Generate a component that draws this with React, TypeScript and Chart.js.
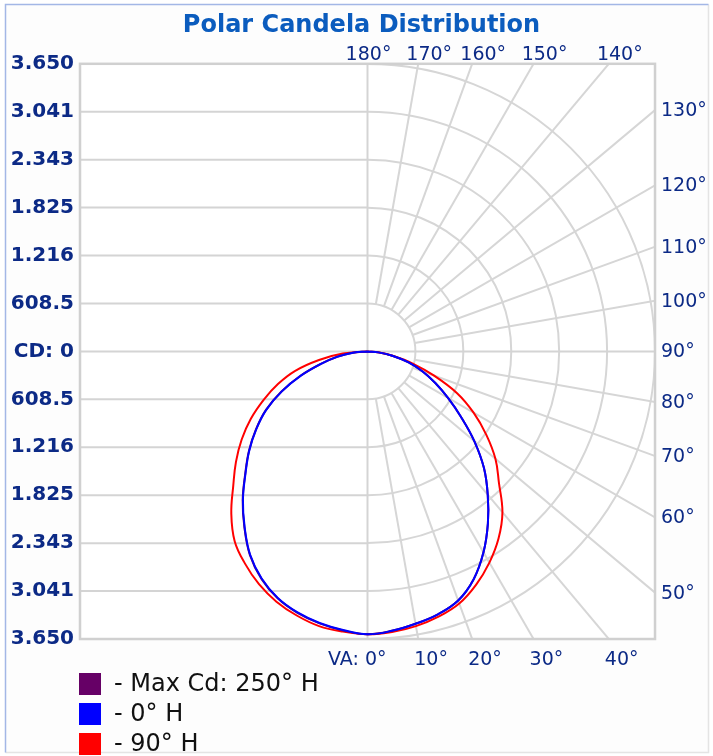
import React, { useEffect, useRef } from "react";
import { Chart, registerables } from "chart.js";
Chart.register(...registerables);

const TITLE = "Polar Candela Distribution";
const MAX_CD = 3650;
const Y_TICK_VALUES = [-3650, -3041.67, -2433.33, -1825, -1216.67, -608.33, 0, 608.33, 1216.67, 1825, 2433.33, 3041.67, 3650];
const Y_TICK_LABELS = ["3.650", "3.041", "2.343", "1.825", "1.216", "608.5", "CD: 0", "608.5", "1.216", "1.825", "2.343", "3.041", "3.650"];
const RING_VALUES = [608.33, 1216.67, 1825, 2433.33, 3041.67, 3650];
const SPOKE_ANGLES = [10, 20, 30, 40, 50, 60, 70, 80, 100, 110, 120, 130, 140, 150, 160, 170];
const BOTTOM_ANGLE_LABELS = [0, 10, 20, 30, 40];
const RIGHT_ANGLE_LABELS = [50, 60, 70, 80, 90, 100, 110, 120, 130];
const TOP_ANGLE_LABELS = [140, 150, 160, 170, 180];

// vertical angles (0 = nadir) and candela values
const VERTICAL_ANGLES = [0, 5, 10, 15, 20, 25, 30, 35, 40, 45, 50, 55, 60, 65, 70, 75, 80, 85, 90];
const CD_0H = [3590, 3560, 3510, 3455, 3365, 3190, 2945, 2665, 2375, 2090, 1770, 1450, 1180, 950, 745, 540, 320, 140, 0];
const CD_180H = [3590, 3550, 3500, 3430, 3330, 3180, 2980, 2720, 2460, 2190, 1960, 1725, 1485, 1200, 900, 610, 385, 185, 0];
const CD_90H = [3590, 3575, 3540, 3485, 3405, 3265, 3095, 2900, 2665, 2360, 2120, 1840, 1555, 1255, 900, 595, 335, 150, 0];
const CD_270H = [3590, 3570, 3540, 3470, 3380, 3260, 3110, 2940, 2690, 2410, 2180, 1950, 1710, 1455, 1210, 950, 625, 315, 0];
const CD_250H_R = [3590, 3560, 3510, 3455, 3365, 3190, 2945, 2665, 2375, 2090, 1770, 1450, 1180, 950, 745, 540, 320, 140, 0];
const CD_250H_L = [3590, 3555, 3505, 3435, 3335, 3185, 2985, 2725, 2465, 2195, 1965, 1730, 1490, 1205, 905, 615, 390, 190, 0];

const SERIES_LABELS = ["- Max Cd: 250° H", "- 0° H", "- 90° H"];
const SERIES_COLORS = ["#660066", "#0000ff", "#ff0000"];

const FONT = '"DejaVu Sans", Verdana, sans-serif';
const NAVY = "#0c2a86";

function buildCurve(left: number[], right: number[]) {
  const pts: { x: number; y: number }[] = [];
  for (let i = VERTICAL_ANGLES.length - 1; i >= 0; i--) {
    const a = (VERTICAL_ANGLES[i] * Math.PI) / 180;
    pts.push({ x: -left[i] * Math.sin(a), y: -left[i] * Math.cos(a) });
  }
  for (let i = 1; i < VERTICAL_ANGLES.length; i++) {
    const a = (VERTICAL_ANGLES[i] * Math.PI) / 180;
    pts.push({ x: right[i] * Math.sin(a), y: -right[i] * Math.cos(a) });
  }
  return pts;
}

const framePlugin = {
  id: "frame",
  beforeDraw(chart: any) {
    const ctx = chart.ctx;
    ctx.save();
    ctx.fillStyle = "#ffffff";
    ctx.fillRect(0, 0, chart.width, chart.height);
    ctx.fillStyle = "#fdfdfd";
    ctx.fillRect(6, 5, 702, 747);
    ctx.lineWidth = 1.5;
    ctx.strokeStyle = "#e4e4e4";
    ctx.beginPath();
    ctx.moveTo(708.5, 4.5);
    ctx.lineTo(708.5, 752.5);
    ctx.lineTo(5.5, 752.5);
    ctx.stroke();
    ctx.strokeStyle = "#a3b7e6";
    ctx.beginPath();
    ctx.moveTo(5.5, 752.5);
    ctx.lineTo(5.5, 4.5);
    ctx.lineTo(708.5, 4.5);
    ctx.stroke();
    ctx.restore();
  },
};

const polarGridPlugin = {
  id: "polarGrid",
  beforeDatasetsDraw(chart: any) {
    const { ctx, chartArea } = chart;
    const xs = chart.scales.x;
    const ys = chart.scales.y;
    const { left, right, top, bottom } = chartArea;
    const cx = xs.getPixelForValue(0);
    const cy = ys.getPixelForValue(0);
    const pxPerCd = xs.getPixelForValue(MAX_CD) - cx;
    ctx.save();
    ctx.fillStyle = "#ffffff";
    ctx.fillRect(left, top, right - left, bottom - top);
    ctx.beginPath();
    ctx.rect(left, top, right - left, bottom - top);
    ctx.clip();
    // horizontal lines on left half
    ctx.strokeStyle = "#d4d4d4";
    ctx.lineWidth = 2;
    Y_TICK_VALUES.forEach((v) => {
      const y = ys.getPixelForValue(v);
      ctx.beginPath();
      ctx.moveTo(left, y);
      ctx.lineTo(cx, y);
      ctx.stroke();
    });
    // rings
    ctx.strokeStyle = "#d6d6d6";
    ctx.lineWidth = 2;
    RING_VALUES.forEach((v) => {
      const r = xs.getPixelForValue(v) - cx;
      ctx.beginPath();
      ctx.arc(cx, cy, r, -Math.PI / 2, Math.PI / 2);
      ctx.stroke();
    });
    // spokes
    const r0 = xs.getPixelForValue(RING_VALUES[0]) - cx;
    const rFar = pxPerCd * 2;
    SPOKE_ANGLES.forEach((deg) => {
      const a = (deg * Math.PI) / 180;
      ctx.beginPath();
      ctx.moveTo(cx + r0 * Math.sin(a), cy + r0 * Math.cos(a));
      ctx.lineTo(cx + rFar * Math.sin(a), cy + rFar * Math.cos(a));
      ctx.stroke();
    });
    ctx.strokeStyle = "#d4d4d4";
    ctx.beginPath();
    ctx.moveTo(cx, top);
    ctx.lineTo(cx, bottom);
    ctx.moveTo(cx, cy);
    ctx.lineTo(right, cy);
    ctx.stroke();
    ctx.restore();
    // border
    ctx.save();
    ctx.strokeStyle = "#d0d0d0";
    ctx.lineWidth = 2.5;
    ctx.strokeRect(left, top, right - left, bottom - top);
    ctx.restore();
  },
  afterDraw(chart: any) {
    const { ctx, chartArea } = chart;
    const xs = chart.scales.x;
    const ys = chart.scales.y;
    const { left, right, top, bottom } = chartArea;
    const cx = xs.getPixelForValue(0);
    const cy = ys.getPixelForValue(0);
    ctx.save();
    ctx.font = "19px " + FONT;
    ctx.fillStyle = NAVY;
    ctx.textBaseline = "middle";
    BOTTOM_ANGLE_LABELS.forEach((deg) => {
      const a = (deg * Math.PI) / 180;
      const t = (bottom - cy) / Math.cos(a);
      const ix = cx + t * Math.sin(a);
      if (deg === 0) {
        ctx.textAlign = "right";
        ctx.fillText("VA: 0°", ix + 19, bottom + 21);
      } else {
        ctx.textAlign = "left";
        ctx.fillText(deg + "°", ix - 4, bottom + 21);
      }
    });
    ctx.textAlign = "left";
    RIGHT_ANGLE_LABELS.forEach((deg) => {
      const a = (deg * Math.PI) / 180;
      const t = (right - cx) / Math.sin(a);
      const iy = cy + t * Math.cos(a);
      ctx.fillText(deg + "°", right + 6, iy + 1);
    });
    ctx.textAlign = "center";
    TOP_ANGLE_LABELS.forEach((deg) => {
      const a = (deg * Math.PI) / 180;
      const t = (top - cy) / Math.cos(a);
      const ix = cx + t * Math.sin(a);
      ctx.fillText(deg + "°", deg === 180 ? ix + 1 : ix + 11, top - 9);
    });
    // legend
    ctx.font = "24px " + FONT;
    ctx.textAlign = "left";
    chart.data.datasets.forEach((ds: any, i: number) => {
      const yc = bottom + 45 + i * 30;
      ctx.fillStyle = ds.borderColor;
      ctx.fillRect(left - 1, yc - 11, 22, 22);
      ctx.fillStyle = "#111111";
      ctx.fillText(ds.label, left + 34, yc + 1);
    });
    ctx.restore();
  },
};

export default function App() {
  const ref = useRef<HTMLCanvasElement>(null);
  useEffect(() => {
    document.body.style.margin = "0";
    const curves = [
      buildCurve(CD_250H_L, CD_250H_R),
      buildCurve(CD_180H, CD_0H),
      buildCurve(CD_270H, CD_90H),
    ];
    const orders = [1, 0, 2];
    const chart = new Chart(ref.current as HTMLCanvasElement, {
      type: "scatter",
      data: {
        datasets: curves.map((c, i) => ({
          label: SERIES_LABELS[i],
          data: c,
          borderColor: SERIES_COLORS[i],
          backgroundColor: SERIES_COLORS[i],
          showLine: true,
          pointRadius: 0,
          borderWidth: 2,
          tension: 0.4,
          fill: false,
          order: orders[i],
        })),
      },
      options: {
        animation: false,
        responsive: false,
        events: [],
        layout: { padding: { left: 10, right: 0, top: 0, bottom: 117 } },
        plugins: {
          legend: { display: false },
          tooltip: { enabled: false },
          title: {
            display: true,
            text: TITLE,
            color: "#0b5cbe",
            font: { family: FONT, size: 24, weight: "bold" },
            padding: { top: 11, bottom: 24 },
          },
        },
        scales: {
          x: { type: "linear", min: -MAX_CD, max: MAX_CD, display: false },
          y: {
            type: "linear",
            position: "left",
            min: -MAX_CD,
            max: MAX_CD,
            afterBuildTicks: (s: any) => {
              s.ticks = Y_TICK_VALUES.map((v) => ({ value: v }));
            },
            afterFit: (s: any) => {
              s.width = 70;
            },
            ticks: {
              autoSkip: false,
              padding: 6,
              color: NAVY,
              font: { family: FONT, size: 20, weight: "bold" },
              callback: (_v: any, i: number) => Y_TICK_LABELS[i],
            },
            grid: { display: false, drawTicks: false },
            border: { display: false },
          },
          y2: {
            type: "linear",
            position: "right",
            afterFit: (s: any) => {
              s.width = 58;
            },
            ticks: { display: false },
            grid: { display: false, drawTicks: false },
            border: { display: false },
          },
        },
      } as any,
      plugins: [framePlugin, polarGridPlugin],
    });
    return () => chart.destroy();
  }, []);
  return (
    <div style={{ width: 713, height: 756 }}>
      <canvas ref={ref} width={713} height={756} style={{ display: "block", width: 713, height: 756 }} />
    </div>
  );
}
